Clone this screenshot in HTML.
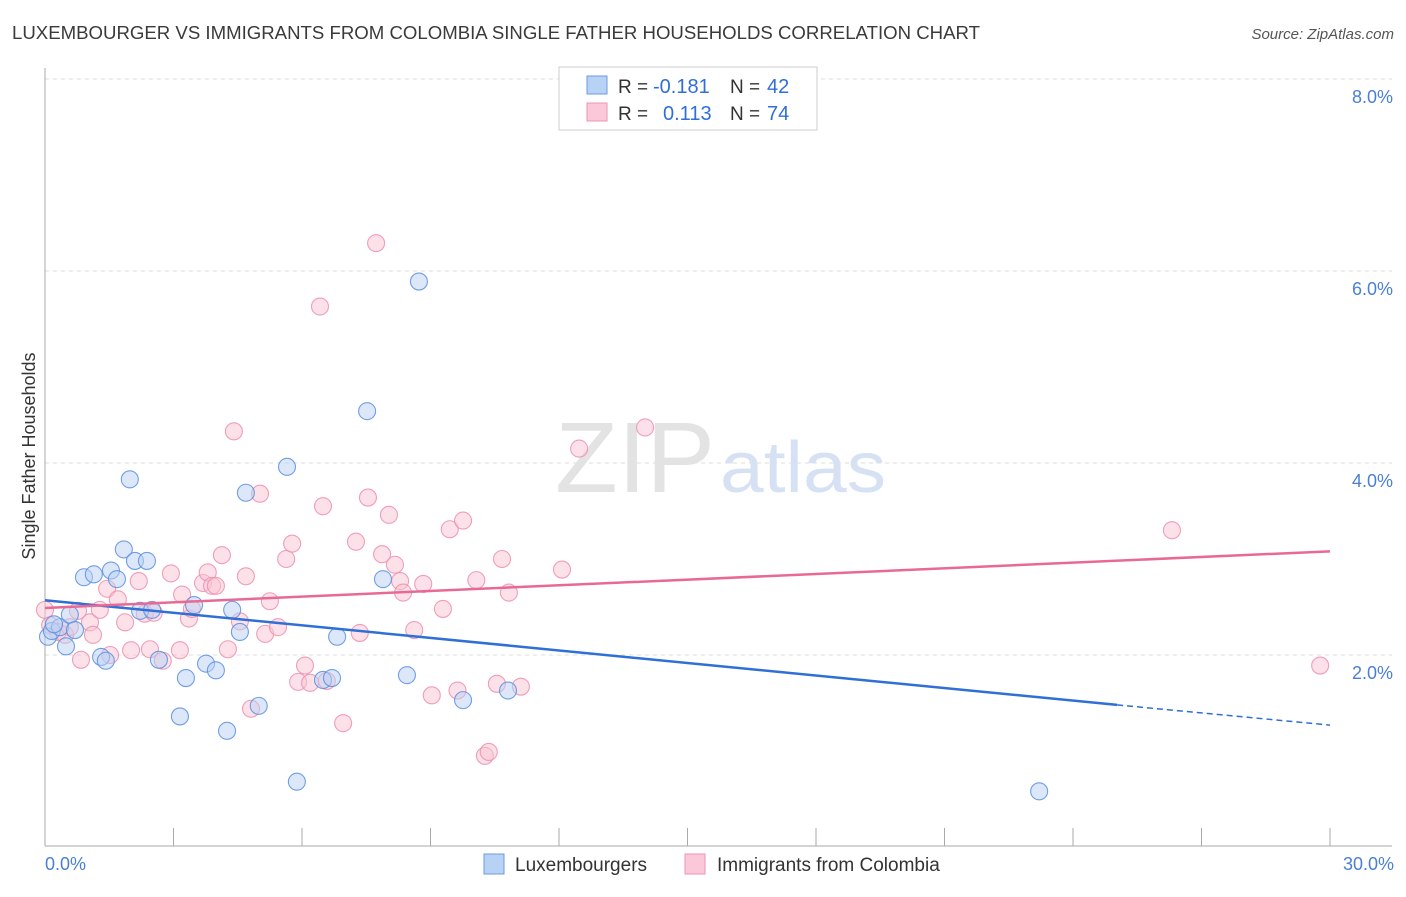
<!DOCTYPE html>
<html><head><meta charset="utf-8"><style>
body{margin:0;background:#fff;font-family:"Liberation Sans",sans-serif}
svg text{font-family:"Liberation Sans",sans-serif}
</style></head><body>
<svg width="1406" height="892" xmlns="http://www.w3.org/2000/svg">
<text x="12" y="39" font-size="18" fill="#3a3a3a" textLength="968" lengthAdjust="spacingAndGlyphs">LUXEMBOURGER VS IMMIGRANTS FROM COLOMBIA SINGLE FATHER HOUSEHOLDS CORRELATION CHART</text>
<text x="1394" y="39" font-size="15" font-style="italic" fill="#555" text-anchor="end">Source: ZipAtlas.com</text>
<g id="grid"></g>
<text x="555" y="492" font-size="100" fill="#e3e3e3" textLength="160" lengthAdjust="spacingAndGlyphs" font-family="Liberation Serif">ZIP</text>
<text x="720" y="492" font-size="72" fill="#d6e2f3" textLength="166" lengthAdjust="spacingAndGlyphs">atlas</text>
<line x1="45" y1="68" x2="45" y2="846" stroke="#aaa"/>
<line x1="45" y1="846" x2="1392" y2="846" stroke="#aaa"/>
<g id="xticks"></g>
<g id="pts"></g>
<g id="trends"></g>
<text x="35" y="456" font-size="18" fill="#333" text-anchor="middle" transform="rotate(-90 35 456)">Single Father Households</text>
<text x="45" y="870" font-size="18" fill="#4a7fd4">0.0%</text>
<text x="1394" y="870" font-size="18" fill="#4a7fd4" text-anchor="end">30.0%</text>
<g>
<rect x="559" y="67" width="258" height="63" fill="#fff" stroke="#ccc"/>
<rect x="587" y="76" width="20" height="18" fill="#b8d2f5" stroke="#6c9be0"/>
<rect x="587" y="103" width="20" height="18" fill="#fac8d8" stroke="#ec94b2"/>
<text x="618" y="93" font-size="19" fill="#333">R =</text>
<text x="653" y="93" font-size="20" fill="#2f6fd6">-0.181</text>
<text x="730" y="93" font-size="19" fill="#333">N =</text>
<text x="767" y="93" font-size="20" fill="#2f6fd6">42</text>
<text x="618" y="120" font-size="19" fill="#333">R =</text>
<text x="663" y="120" font-size="20" fill="#2f6fd6">0.113</text>
<text x="730" y="120" font-size="19" fill="#333">N =</text>
<text x="767" y="120" font-size="20" fill="#2f6fd6">74</text>
</g>
<g>
<rect x="484" y="854" width="20" height="20" fill="#b8d2f5" stroke="#6c9be0"/>
<text x="515" y="871" font-size="19" fill="#333">Luxembourgers</text>
<rect x="685" y="854" width="20" height="20" fill="#fac8d8" stroke="#ec94b2"/>
<text x="717" y="871" font-size="19" fill="#333">Immigrants from Colombia</text>
</g>
</svg>
<script>
const yTicks=[2,4,6,8];
const yTickLabels=["2.0%","4.0%","6.0%","8.0%"];
const xTicks=[0,3,6,9,12,15,18,21,24,27,30];
const luxX=[0.07,0.16,0.35,0.49,0.58,0.70,0.91,1.14,1.31,1.42,1.54,1.68,1.84,1.98,2.10,2.22,2.38,2.50,2.66,3.29,3.15,3.48,3.76,3.99,4.25,4.37,4.55,4.69,4.99,5.65,5.88,6.49,6.70,6.82,7.52,7.89,8.45,8.73,9.76,10.81,23.21,0.21];
const luxY=[2.19,2.25,2.29,2.09,2.42,2.26,2.81,2.84,1.98,1.94,2.88,2.79,3.10,3.83,2.98,2.46,2.98,2.47,1.95,1.76,1.36,2.52,1.91,1.84,1.21,2.47,2.24,3.69,1.47,3.96,0.68,1.74,1.76,2.19,4.54,2.79,1.79,5.89,1.53,1.63,0.58,2.32];
const colX=[0.0,0.12,0.30,0.47,0.58,0.77,0.84,1.05,1.12,1.28,1.45,1.52,1.70,1.87,2.01,2.19,2.33,2.45,2.54,2.75,2.94,3.15,3.20,3.36,3.43,3.69,3.80,3.90,3.99,4.13,4.27,4.41,4.55,4.69,4.81,5.02,5.14,5.25,5.44,5.63,5.77,5.91,6.07,6.19,6.49,6.58,6.96,7.26,7.35,7.54,7.73,7.87,8.03,8.17,8.29,8.36,8.62,8.83,9.03,9.29,9.45,9.63,9.76,10.07,10.27,10.36,10.55,10.67,10.83,11.11,12.07,12.47,14.01,6.42,26.31,29.77];
const colY=[2.47,2.31,2.24,2.21,2.29,2.46,1.95,2.34,2.21,2.47,2.69,2.0,2.58,2.34,2.05,2.77,2.43,2.06,2.44,1.94,2.85,2.05,2.63,2.38,2.48,2.75,2.86,2.72,2.72,3.04,2.06,4.33,2.35,2.82,1.44,3.68,2.22,2.56,2.29,3.0,3.16,1.72,1.89,1.71,3.55,1.73,1.29,3.18,2.23,3.64,6.29,3.05,3.46,2.94,2.77,2.65,2.26,2.74,1.58,2.48,3.31,1.63,3.4,2.78,0.95,0.99,1.70,3.0,2.65,1.67,2.89,4.15,4.37,5.63,3.30,1.89];
const luxTrend=[[0,2.57],[25.03,1.48],[30,1.27]];
const colTrend=[[0,2.49],[30,3.08]];
const X=v=>45+v/30*1285, Y=v=>847-v*96;
const NS="http://www.w3.org/2000/svg";
function mk(t,a,p){const e=document.createElementNS(NS,t);for(const k in a)e.setAttribute(k,a[k]);p.appendChild(e);return e;}
const grid=document.getElementById('grid');
yTicks.forEach((t,i)=>{
 const l=mk('line',{x1:45,x2:1392,y1:Y(t),y2:Y(t),stroke:'#ddd','stroke-dasharray':'4,4'},grid);
 
 
 const tx=mk('text',{x:1393,y:Y(t)+24,'font-size':18,fill:'#4a7fd4','text-anchor':'end'},grid);
 tx.textContent=yTickLabels[i];
 
 
});
const xt=document.getElementById('xticks');
xTicks.forEach(t=>{
 const l=mk('line',{x1:X(t),x2:X(t),y1:828,y2:846,stroke:'#aaa'},xt);
 
 
});
const pts=document.getElementById('pts');
function drawPts(xs,ys,fill,stroke,name){
 xs.forEach((x,i)=>{
  const c=mk('circle',{cx:X(x),cy:Y(ys[i]),r:8.5,fill:fill,'fill-opacity':0.5,stroke:stroke,'stroke-width':1.1,'stroke-opacity':0.85},pts);
  
  
 });
}
drawPts(colX,colY,'#f9c3d3','#ec8fae','colombia-point');
drawPts(luxX,luxY,'#b9d2f4','#5b8ee0','luxembourger-point');
const tr=document.getElementById('trends');
let l=mk('line',{x1:X(luxTrend[0][0]),y1:Y(luxTrend[0][1]),x2:X(luxTrend[1][0]),y2:Y(luxTrend[1][1]),stroke:'#2f6fd6','stroke-width':2.5},tr);


l=mk('line',{x1:X(luxTrend[1][0]),y1:Y(luxTrend[1][1]),x2:X(luxTrend[2][0]),y2:Y(luxTrend[2][1]),stroke:'#2f6fd6','stroke-width':1.5,'stroke-dasharray':'6,4'},tr);


l=mk('line',{x1:X(colTrend[0][0]),y1:Y(colTrend[0][1]),x2:X(colTrend[1][0]),y2:Y(colTrend[1][1]),stroke:'#e86a94','stroke-width':2.5},tr);


</script>
</body></html>
